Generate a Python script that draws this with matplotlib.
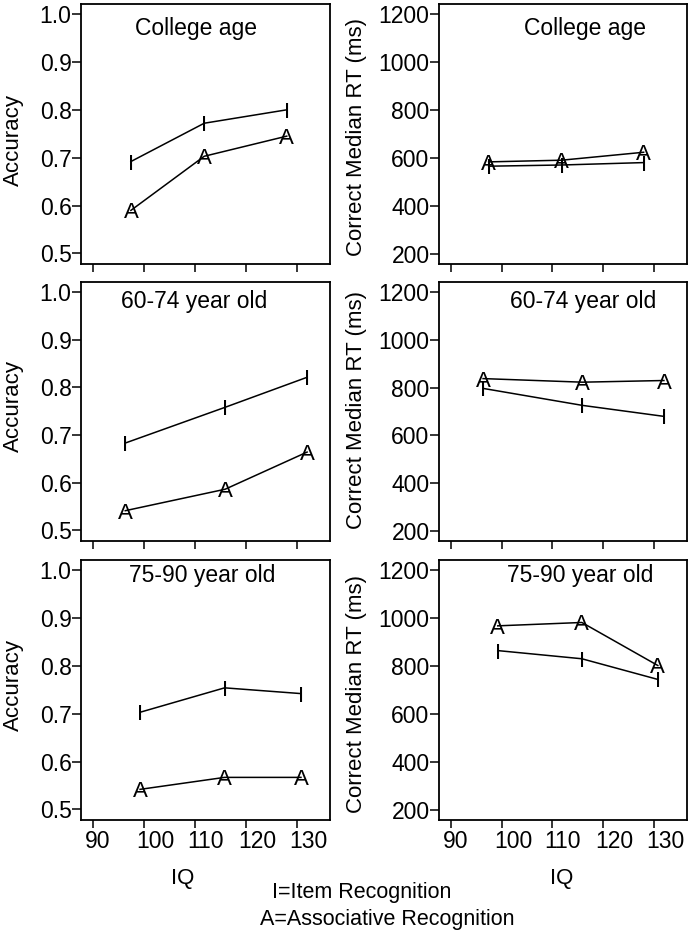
import matplotlib
matplotlib.use("Agg")
import matplotlib.pyplot as plt
from matplotlib.transforms import ScaledTranslation

plt.rcParams['font.family'] = ['Liberation Sans', 'DejaVu Sans']

# ---- data ----
groups = ["College age", "60-74 year old", "75-90 year old"]
iq_college = [97.4, 111.8, 128.0]
iq_6074 = [96.3, 115.9, 132.0]
iq_7590 = [99.2, 115.8, 130.8]

acc_item_college = [0.692, 0.772, 0.800]
acc_assoc_college = [0.590, 0.703, 0.745]
rt_item_college = [567, 572, 582]
rt_assoc_college = [585, 592, 625]

acc_item_6074 = [0.683, 0.758, 0.821]
acc_assoc_6074 = [0.541, 0.586, 0.664]
rt_item_6074 = [797, 726, 680]
rt_assoc_6074 = [838, 823, 830]

acc_item_7590 = [0.703, 0.754, 0.742]
acc_assoc_7590 = [0.542, 0.567, 0.567]
rt_item_7590 = [865, 831, 745]
rt_assoc_7590 = [968, 982, 803]

x_ticks = [90, 100, 110, 120, 130]
acc_ticks = [0.5, 0.6, 0.7, 0.8, 0.9, 1.0]
rt_ticks = [200, 400, 600, 800, 1000, 1200]

rows = [
    (iq_college, acc_item_college, acc_assoc_college, rt_item_college, rt_assoc_college),
    (iq_6074, acc_item_6074, acc_assoc_6074, rt_item_6074, rt_assoc_6074),
    (iq_7590, acc_item_7590, acc_assoc_7590, rt_item_7590, rt_assoc_7590),
]

W, H = 693, 935
fig = plt.figure(figsize=(W / 100, H / 100), dpi=100)

# pixel boxes (top, bottom)
row_boxes = [(4, 264), (282, 540.7), (560, 820)]
col_boxes = [(81, 330), (439, 686.7)]

title_x = [[0.461, 0.591], [0.456, 0.581], [0.488, 0.571]]
title_y = [0.881, 0.898, 0.917]
ylab_y = [[0.477, 0.488], [0.521, 0.505], [0.519, 0.485]]

TICK_FS = 16.5
LINE_W = 1.1
MARK_FS = 16

for r, (iq, ai, aa, ri, ra) in enumerate(rows):
    top, bot = row_boxes[r]
    for c in range(2):
        l, rr = col_boxes[c]
        ax = fig.add_axes([l / W, 1 - bot / H, (rr - l) / W, (bot - top) / H])
        for sp in ax.spines.values():
            sp.set_linewidth(1.3)
            sp.set_color('black')
        ax.set_xlim(87.6, 136.5)
        if c == 0:
            item, assoc = ai, aa
            ax.set_ylim(0.478, 1.021)
            ax.set_yticks(acc_ticks)
            ax.set_yticklabels([f"{v:.1f}" for v in acc_ticks])
            ax.set_ylabel("Accuracy", fontsize=16)
            ax.yaxis.set_label_coords(-0.229, ylab_y[r][c])
        else:
            item, assoc = ri, ra
            ax.set_ylim(160, 1242)
            ax.set_yticks(rt_ticks)
            ax.set_yticklabels([str(v) for v in rt_ticks])
            ax.set_ylabel("Correct Median RT (ms)", fontsize=16)
            ax.yaxis.set_label_coords(-0.291, ylab_y[r][c])
        ax.tick_params(axis='y', direction='out', length=6.3, width=1.1,
                       pad=0.5, labelsize=TICK_FS)
        ax.set_xticks(x_ticks)
        if r < 2:
            ax.tick_params(axis='x', direction='out', length=5.8, width=1.1,
                           labelbottom=False)
        else:
            ax.set_xticklabels([str(v) for v in x_ticks])
            ax.tick_params(axis='x', direction='out', length=5.8, width=1.1,
                           pad=1.5, labelsize=TICK_FS)
            off = ScaledTranslation(-8 / 100, 0, fig.dpi_scale_trans)
            for lab in ax.get_xticklabels():
                lab.set_ha('left')
                lab.set_transform(lab.get_transform() + off)
            ax.set_xlabel("IQ", fontsize=16)
            ax.xaxis.set_label_coords([0.408, 0.495][c], -0.185)

        ax.plot(iq, item, color='black', lw=LINE_W, zorder=2)
        ax.plot(iq, assoc, color='black', lw=LINE_W, zorder=2)
        for xv, yv in zip(iq, item):
            ax.text(xv, yv, "I", ha='center', va='center_baseline',
                    fontsize=MARK_FS, zorder=3)
        for xv, yv in zip(iq, assoc):
            ax.text(xv, yv, "A", ha='center', va='center_baseline',
                    fontsize=MARK_FS, zorder=3)

        ax.text(title_x[r][c], title_y[r], groups[r], transform=ax.transAxes,
                ha='center', va='baseline', fontsize=16.5)

fig.text(271.7 / W, 1 - 898.3 / H, "I=Item Recognition", ha='left',
         va='baseline', fontsize=15.5)
fig.text(260 / W, 1 - 925 / H, "A=Associative Recognition", ha='left',
         va='baseline', fontsize=15.5)

fig.savefig("out.png", dpi=100)
